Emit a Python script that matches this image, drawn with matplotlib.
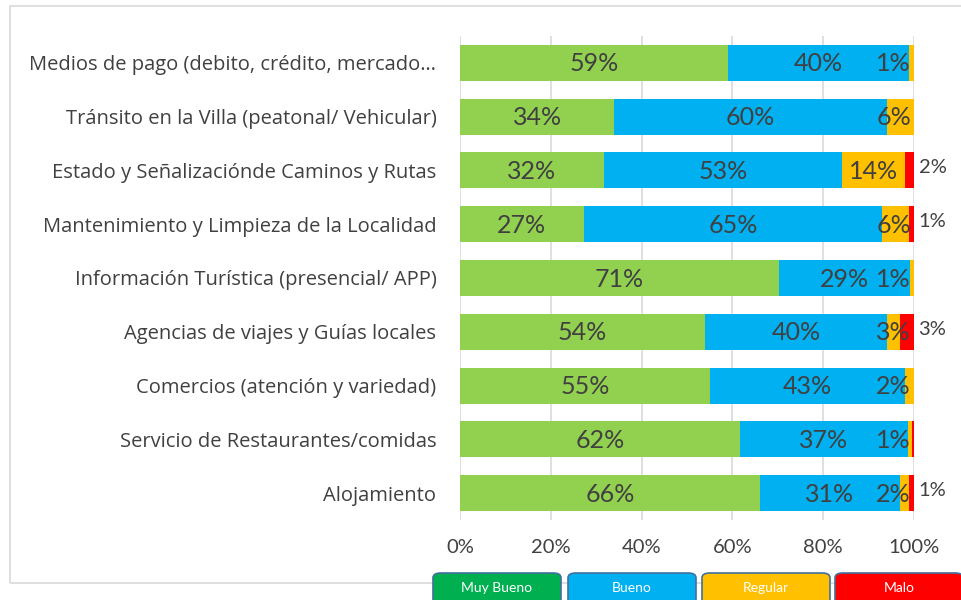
import numpy as np
import matplotlib.pyplot as plt
from matplotlib.patches import FancyBboxPatch, Rectangle

plt.rcParams['font.family'] = ['Lato', 'DejaVu Sans']

# data (top to bottom as in the chart)
categories = [
    'Medios de pago (debito, crédito, mercado…',
    'Tránsito en la Villa (peatonal/ Vehicular)',
    'Estado y Señalizaciónde Caminos y Rutas',
    'Mantenimiento y Limpieza de la Localidad',
    'Información Turística (presencial/ APP)',
    'Agencias de viajes y Guías locales',
    'Comercios (atención y variedad)',
    'Servicio de Restaurantes/comidas',
    'Alojamiento',
]
muy_bueno = [59, 34, 32, 27, 71, 54, 55, 62, 66]
bueno = [40, 60, 53, 65, 29, 40, 43, 37, 31]
regular = [1, 6, 14, 6, 1, 3, 2, 1, 2]
malo = [0, 0, 2, 1, 0, 3, 0, 0.4, 1]

series = ['Muy Bueno', 'Bueno', 'Regular', 'Malo']
bar_colors = ['#92D050', '#00B0F0', '#FFC000', '#FF0000']
legend_colors = ['#00B050', '#00B0F0', '#FFC000', '#FF0000']

vals = np.array([muy_bueno, bueno, regular, malo], dtype=float)
shares = vals / vals.sum(axis=0)

fig = plt.figure(figsize=(9.62, 6.0), dpi=100)

# chart frame
fig.patches.append(Rectangle((10 / 962, 1 - 583 / 600), 1.2, 577 / 600,
                             transform=fig.transFigure, fill=False,
                             edgecolor='#D9D9D9', linewidth=1.2))

ax = fig.add_axes([460 / 962, 1 - 520 / 600, 454 / 962, 484 / 600])
y = np.arange(len(categories))
left = np.zeros(len(categories))
text_col = '#404040'
for i in range(4):
    ax.barh(y, shares[i], left=left, height=0.67, color=bar_colors[i],
            edgecolor='none', zorder=2)
    for j in range(len(categories)):
        if vals[i, j] < 1:
            continue
        lab = f'{vals[i, j]:.0f}%'
        if i == 3:
            ax.text(1.01, y[j] - 0.05, lab, ha='left', va='center',
                    fontsize=14.5, color=text_col, zorder=3)
        else:
            cx = left[j] + shares[i, j] / 2
            cx = min(cx, 0.955)
            ax.text(cx, y[j] + 0.02, lab, ha='center', va='center',
                    fontsize=18, color=text_col, zorder=3)
    left += shares[i]

ax.set_xlim(0, 1)
ax.set_ylim(len(categories) - 0.5, -0.5)
ax.set_yticks(y)
ax.set_yticklabels(categories, fontsize=14.5, color=text_col,
                   family=['Open Sans', 'DejaVu Sans'])
ax.set_xticks(np.arange(0, 1.01, 0.2))
ax.set_xticklabels([f'{int(t * 100)}%' for t in np.arange(0, 1.01, 0.2)],
                   fontsize=14.5, color=text_col)
ax.tick_params(axis='both', length=0)
ax.tick_params(axis='y', pad=17)
ax.tick_params(axis='x', pad=14)
ax.grid(axis='x', color='#D9D9D9', linewidth=1.2, zorder=0)
for s in ax.spines.values():
    s.set_visible(False)

# legend drawn as buttons
box_x = [433, 568, 702, 835]
for k, name in enumerate(series):
    x0 = box_x[k] / 962
    fig.patches.append(FancyBboxPatch(
        (x0, -0.02), 128 / 962, (600 - 573) / 600 + 0.02,
        boxstyle='round,pad=0,rounding_size=0.008',
        transform=fig.transFigure, facecolor=legend_colors[k],
        edgecolor='#41719C', linewidth=1.2))
    fig.text(x0 + 64 / 962, 1 - 588 / 600, name, ha='center', va='center',
             color='white', fontsize=10)

fig.savefig('out.png', dpi=100)
